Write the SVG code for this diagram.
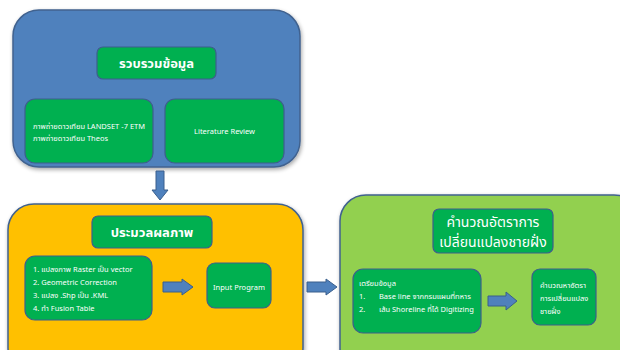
<svg xmlns="http://www.w3.org/2000/svg" width="620" height="350" viewBox="0 0 620 350">
  <defs>
    <filter id="shadow" x="-10%" y="-10%" width="120%" height="130%">
      <feGaussianBlur in="SourceAlpha" stdDeviation="2"/>
      <feOffset dx="1" dy="2"/>
      <feComponentTransfer><feFuncA type="linear" slope="0.35"/></feComponentTransfer>
      <feMerge><feMergeNode/><feMergeNode in="SourceGraphic"/></feMerge>
    </filter>
  </defs>
  <style>
    .panel { stroke: #41628f; stroke-width: 1.5; }
    .box { fill: #00b050; stroke: #3d5f8c; stroke-width: 1.2; }
    .arrow { fill: #4f81bd; stroke: #3a5f8c; stroke-width: 1; }
    text { font-family: "Noto Sans Thai", "Tahoma", "Liberation Sans", "DejaVu Sans", sans-serif; fill: #ffffff; }
    .title { font-size: 13px; font-weight: bold; text-anchor: middle; }
    .title2 { font-size: 14px; text-anchor: middle; }
    .small { font-size: 7.5px; }
    .mid { text-anchor: middle; }
  </style>

  <rect width="620" height="350" fill="#ffffff"/>

  <!-- Stage 1: data collection -->
  <g id="collect">
    <rect class="panel" x="13" y="10" width="287" height="157" rx="26" fill="#4f81bd" filter="url(#shadow)"/>
    <g id="collect-title">
      <rect class="box" x="97" y="47" width="119" height="32" rx="6"/>
      <text class="title" x="156.5" y="68">รวบรวมข้อมูล</text>
    </g>
    <g id="collect-sources">
      <rect class="box" x="25" y="99" width="128" height="64" rx="10"/>
      <text class="small" x="33" y="129">ภาพถ่ายดาวเทียม LANDSET -7 ETM</text>
      <text class="small" x="33" y="141">ภาพถ่ายดาวเทียม Theos</text>
    </g>
    <g id="collect-literature">
      <rect class="box" x="165" y="99" width="119" height="64" rx="10"/>
      <text class="small mid" x="224.5" y="134">Literature Review</text>
    </g>
  </g>

  <!-- Stage 2: image processing -->
  <g id="process">
    <rect class="panel" x="8" y="204" width="295" height="170" rx="26" fill="#ffc000" filter="url(#shadow)"/>
    <g id="process-title">
      <rect class="box" x="92" y="216" width="120" height="32" rx="6"/>
      <text class="title" x="152" y="237">ประมวลผลภาพ</text>
    </g>
    <g id="process-steps">
      <rect class="box" x="25" y="256" width="127" height="64" rx="10"/>
      <text class="small" x="33" y="272">1. แปลงภาพ Raster เป็น vector</text>
      <text class="small" x="33" y="285">2. Geometric Correction</text>
      <text class="small" x="33" y="298">3. แปลง .Shp เป็น .KML</text>
      <text class="small" x="33" y="311">4. ทำ Fusion Table</text>
    </g>
    <g id="process-input">
      <rect class="box" x="207" y="263" width="64" height="45" rx="8"/>
      <text class="small mid" x="239" y="290">Input Program</text>
    </g>
  </g>

  <!-- Stage 3: shoreline change rate -->
  <g id="calculate">
    <rect class="panel" x="340" y="195" width="300" height="180" rx="26" fill="#92d050" filter="url(#shadow)"/>
    <g id="calculate-title">
      <rect class="box" x="433" y="209" width="120" height="44" rx="6"/>
      <text class="title2" x="493" y="227">คำนวณอัตราการ</text>
      <text class="title2" x="493" y="247">เปลี่ยนแปลงชายฝั่ง</text>
    </g>
    <g id="calculate-prepare">
      <rect class="box" x="353" y="269" width="128" height="64" rx="10"/>
      <text class="small" x="359" y="286">เตรียมข้อมูล</text>
      <text class="small" x="359" y="299">1.</text>
      <text class="small" x="379" y="299">Base line จากกรมแผนที่ทหาร</text>
      <text class="small" x="359" y="312">2.</text>
      <text class="small" x="379" y="312">เส้น Shoreline ที่ได้ Digitizing</text>
    </g>
    <g id="calculate-rate">
      <rect class="box" x="532" y="269" width="64" height="56" rx="8"/>
      <text class="small" x="540" y="288">คำนวณหาอัตรา</text>
      <text class="small" x="540" y="301">การเปลี่ยนแปลง</text>
      <text class="small" x="540" y="314">ชายฝั่ง</text>
    </g>
  </g>

  <!-- Block arrows -->
  <g id="connectors">
    <path class="arrow" d="M156,171 H164 V190 H168 L160,200 L152,190 H156 Z"/>
    <path class="arrow" d="M163,282 H182 V279 L193,287 L182,295 V292 H163 Z"/>
    <path class="arrow" d="M307,282 H326 V279 L337,287 L326,295 V292 H307 Z"/>
    <path class="arrow" d="M488,296 H506 V292 L517,301 L506,310 V306 H488 Z"/>
  </g>
</svg>
